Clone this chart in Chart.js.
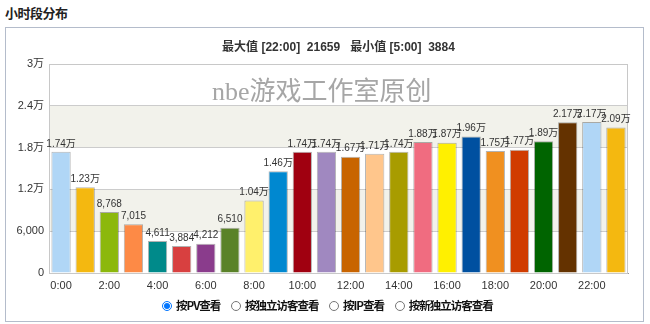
<!DOCTYPE html>
<html>
<head>
<meta charset="utf-8">
<script src="https://cdn.jsdelivr.net/npm/chart.js"></script>
<style>
body { margin: 0; background: #fff; }
#wrap { position: relative; width: 650px; height: 324px; overflow: hidden; font-family: "Liberation Sans", "Noto Sans CJK SC", sans-serif; }
#title { position: absolute; left: 5px; top: 3px; font: bold 13px "Noto Sans CJK SC", sans-serif; color: #222; letter-spacing: -0.5px; }
#box { position: absolute; left: 5px; top: 27px; width: 637px; height: 293px; border: 1px solid #b4bccb; }
#sub { position: absolute; left: 49px; width: 579px; top: 37px; text-align: center; font: bold 12px "Liberation Sans", "Noto Sans CJK SC", sans-serif; color: #333; }
#mark { position: absolute; left: 212px; top: 70px; font: 26px "Liberation Serif", "Noto Sans CJK SC", serif; color: #a6a6a6; }
#chart { position: absolute; left: 0; top: 0; }
#radios { position: absolute; top: 297px; left: 158px; font: bold 11.5px "Noto Sans CJK SC", sans-serif; color: #111; white-space: nowrap; letter-spacing: -1px; }
#radios label { margin-right: 5px; }
#radios input { width: 10px; height: 10px; margin: 0 4px 0 4px; vertical-align: -1px; }
</style>
</head>
<body>
<div id="wrap">
  <div id="title">小时段分布</div>
  <div id="box"></div>
  <canvas id="chart" width="650" height="324"></canvas>
  <div id="sub">最大值 [22:00]&nbsp; 21659 &nbsp; 最小值 [5:00]&nbsp; 3884</div>
  <div id="mark">nbe游戏工作室原创</div>
  <div id="radios">
    <label><input type="radio" name="v" checked>按PV查看</label>
    <label><input type="radio" name="v">按独立访客查看</label>
    <label><input type="radio" name="v">按IP查看</label>
    <label><input type="radio" name="v">按新独立访客查看</label>
  </div>
</div>
<script>
// 数据
const hours = ['0:00','1:00','2:00','3:00','4:00','5:00','6:00','7:00','8:00','9:00','10:00','11:00',
               '12:00','13:00','14:00','15:00','16:00','17:00','18:00','19:00','20:00','21:00','22:00','23:00'];
const pv = [17400, 12300, 8768, 7015, 4611, 3884, 4212, 6510, 10400, 14600, 17400, 17400,
            16700, 17100, 17400, 18800, 18700, 19600, 17500, 17700, 18900, 21650, 21659, 20900];
const barColors = ['#b0d6f6','#f4b810','#8cb80c','#fd8a46','#008a8a','#d84040','#8a3c8c','#5a8228',
                   '#fff06c','#0088d0','#a00010','#a088c0','#c86400','#ffc68c','#a89c00','#f06c80',
                   '#fff000','#0050a0','#f09020','#d03c00','#006400','#643200','#b0d6f6','#f4b810'];
const yTicks = [0, 6000, 12000, 18000, 24000, 30000];

function fmtTick(v) {
    return v >= 10000 ? (v / 10000) + '万' : v.toLocaleString('en-US');
}
function fmtValue(v) {
    return v >= 10000 ? (v / 10000).toFixed(2) + '万' : v.toLocaleString('en-US');
}

// 背景条纹 + 边框
const bands = {
    id: 'bands',
    beforeDraw(chart) {
        const { ctx, chartArea: a, scales: { y } } = chart;
        ctx.save();
        ctx.fillStyle = '#f2f2eb';
        [[18000, 24000], [6000, 12000]].forEach(([lo, hi]) => {
            const top = y.getPixelForValue(hi), bot = y.getPixelForValue(lo);
            ctx.fillRect(a.left, top, a.right - a.left, bot - top);
        });
        ctx.restore();
    },
    beforeDatasetsDraw(chart) {
        const { ctx, chartArea: a } = chart;
        ctx.save();
        ctx.strokeStyle = '#c8c8c8';
        ctx.lineWidth = 1;
        ctx.strokeRect(a.left + 0.5, a.top + 0.5, a.right - a.left - 1, a.bottom - a.top);
        ctx.restore();
    }
};

// 柱顶数值
const valueLabels = {
    id: 'valueLabels',
    afterDatasetsDraw(chart) {
        const { ctx } = chart;
        const meta = chart.getDatasetMeta(0);
        ctx.save();
        ctx.font = '10px "Liberation Sans", "Noto Sans CJK SC", sans-serif';
        ctx.fillStyle = '#333';
        ctx.textAlign = 'center';
        ctx.textBaseline = 'bottom';
        meta.data.forEach((bar, i) => {
            ctx.fillText(fmtValue(pv[i]), bar.x, bar.y - 3);
        });
        ctx.restore();
    }
};

new Chart(document.getElementById('chart'), {
    type: 'bar',
    data: {
        labels: hours,
        datasets: [{
            data: pv,
            backgroundColor: barColors,
            borderColor: 'rgba(0,0,0,0.3)',
            borderWidth: 1,
            barPercentage: 0.8,
            categoryPercentage: 1
        }]
    },
    options: {
        responsive: false,
        animation: false,
        layout: { padding: { top: 64, left: 6, right: 22, bottom: 31 } },
        plugins: { legend: { display: false }, tooltip: { enabled: false } },
        scales: {
            x: {
                grid: { display: false, drawTicks: false },
                border: { color: '#999' },
                ticks: {
                    autoSkip: false, maxRotation: 0, padding: 6, color: '#333',
                    font: { family: '"Liberation Sans", sans-serif', size: 11 },
                    callback: (v, i) => i % 2 === 0 ? hours[i] : ''
                },
                afterFit: s => { s.height = 20; }
            },
            y: {
                min: 0,
                max: 30000,
                afterBuildTicks: s => { s.ticks = yTicks.map(v => ({ value: v })); },
                grid: { color: '#cccccc', drawTicks: false },
                border: { color: '#999' },
                ticks: {
                    padding: 5, color: '#333',
                    font: { family: '"Liberation Sans", "Noto Sans CJK SC", sans-serif', size: 11 },
                    callback: v => fmtTick(v)
                },
                afterFit: s => { s.width = 43; }
            }
        }
    },
    plugins: [bands, valueLabels]
});
</script>
</body>
</html>
